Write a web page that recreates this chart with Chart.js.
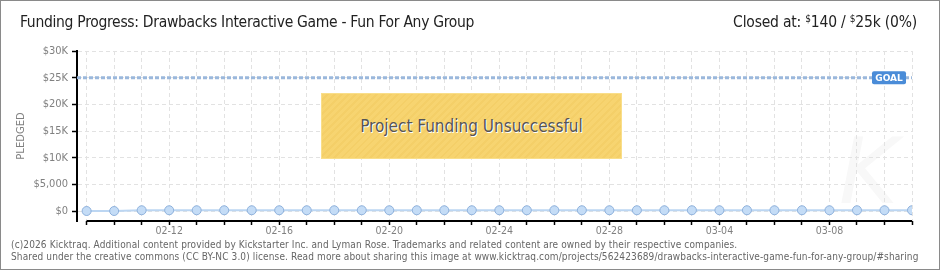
<!DOCTYPE html>
<html>
<head>
<meta charset="utf-8">
<script src="https://cdn.jsdelivr.net/npm/chart.js@4/dist/chart.umd.min.js"></script>
<style>
  html, body { margin: 0; padding: 0; background: #fff; }
  #wrap {
    position: relative; width: 940px; height: 270px; box-sizing: border-box;
    border: 1px solid #8a8a8a; overflow: hidden; background: #fff;
  }
  #chart { position: absolute; left: 0; top: 0; }
  .title {
    position: absolute; left: 19px; top: 12px; font: 15.5px "DejaVu Sans Condensed", sans-serif;
    color: #222; white-space: nowrap; letter-spacing: -0.3px;
  }
  .closed {
    position: absolute; right: 22px; top: 12px; font: 15.5px "DejaVu Sans Condensed", sans-serif;
    color: #222; white-space: nowrap; letter-spacing: -0.2px;
  }
  .closed sup { font-size: 10px; vertical-align: 5px; }
  .footer {
    position: absolute; left: 10px; top: 238px; font: 10px "DejaVu Sans Condensed", sans-serif;
    color: #666; line-height: 12px; white-space: nowrap; letter-spacing: 0.12px;
  }
  .banner {
    position: absolute; left: 320px; top: 92px; width: 301px; height: 66px; box-sizing: border-box;
    background: repeating-linear-gradient(135deg, #f7d470 0 3px, #f4cf68 3px 5px);
    border: 1px solid #f9de8a;
    display: flex; align-items: center; justify-content: center;
    font: 17px "DejaVu Sans Condensed", sans-serif; color: #555; text-shadow: 1px 1px 0 #fff;
  }
  .mark {
    position: absolute; left: 838px; top: 118px; font: italic 90px "DejaVu Sans", sans-serif;
    color: #f8f8f8; z-index: 0;
  }
</style>
</head>
<body>
<div id="wrap">
  <div class="mark">K</div>
  <canvas id="chart" width="940" height="270"></canvas>
  <div class="title">Funding Progress: Drawbacks Interactive Game - Fun For Any Group</div>
  <div class="closed">Closed at: <sup>$</sup>140 / <sup>$</sup>25k (0%)</div>
  <div class="banner">Project Funding Unsuccessful</div>
  <div class="footer">(c)2026 Kicktraq. Additional content provided by Kickstarter Inc. and Lyman Rose. Trademarks and related content are owned by their respective companies.<br>Shared under the creative commons (CC BY-NC 3.0) license. Read more about sharing this image at www.kicktraq.com/projects/562423689/drawbacks-interactive-game-fun-for-any-group/#sharing</div>
</div>
<script>
const dates = [
  "02-09", "02-10", "02-11", "02-12", "02-13", "02-14", "02-15", "02-16",
  "02-17", "02-18", "02-19", "02-20", "02-21", "02-22", "02-23", "02-24",
  "02-25", "02-26", "02-27", "02-28", "03-01", "03-02", "03-03", "03-04",
  "03-05", "03-06", "03-07", "03-08", "03-09", "03-10", "03-11",
];
const pledged = [
  0, 0, 140, 140, 140, 140, 140, 140, 140, 140, 140, 140, 140, 140, 140, 140,
  140, 140, 140, 140, 140, 140, 140, 140, 140, 140, 140, 140, 140, 140, 140,
];
const shownDates = ["02-12", "02-16", "02-20", "02-24", "02-28", "03-04", "03-08"];
const yTicks = [0, 5000, 10000, 15000, 20000, 25000, 30000];
const yTickLabels = ["$0", "$5,000", "$10K", "$15K", "$20K", "$25K", "$30K"];
const goal = 25000;

const axisFont = { family: "DejaVu Sans Condensed", size: 11 };

// goal line, GOAL tag, and x axis line between first/last day
const overlay = {
  id: "overlay",
  beforeDatasetsDraw(chart) {
    const { ctx, chartArea, scales } = chart;
    const y = scales.y.getPixelForValue(goal);
    ctx.save();
    ctx.strokeStyle = "#9bb8dc";
    ctx.lineWidth = 3;
    ctx.setLineDash([4, 2]);
    ctx.beginPath();
    ctx.moveTo(chartArea.left, y);
    ctx.lineTo(chartArea.right, y);
    ctx.stroke();
    ctx.restore();
  },
  afterDraw(chart) {
    const { ctx, chartArea, scales } = chart;
    const y = scales.y.getPixelForValue(goal);
    ctx.save();
    ctx.fillStyle = "#4a8cd8";
    ctx.beginPath();
    ctx.roundRect(chartArea.right - 40, y - 6.5, 34, 13, 2);
    ctx.fill();
    ctx.fillStyle = "#fff";
    ctx.font = "bold 9px 'DejaVu Sans'";
    ctx.textAlign = "center";
    ctx.textBaseline = "middle";
    ctx.fillText("GOAL", chartArea.right - 23, y + 0.5);

    const x0 = scales.x.getPixelForValue(0);
    const x1 = scales.x.getPixelForValue(dates.length - 1);
    ctx.strokeStyle = "#000";
    ctx.lineWidth = 2;
    ctx.beginPath();
    ctx.moveTo(x0, chartArea.bottom);
    ctx.lineTo(x1, chartArea.bottom);
    ctx.stroke();
    ctx.restore();
  },
};

new Chart(document.getElementById("chart"), {
  type: "line",
  data: {
    datasets: [
      {
        label: "Pledged",
        data: pledged.map((v, i) => ({ x: i, y: v })),
        borderColor: "#bcd6f2",
        borderWidth: 2,
        pointRadius: 4.5,
        pointBackgroundColor: "#c4dcf6",
        pointBorderColor: "#8eb1dc",
        pointBorderWidth: 1,
        tension: 0,
      },
    ],
  },
  options: {
    responsive: false,
    animation: false,
    events: [],
    layout: { padding: { left: 0, top: 50, right: 29, bottom: 30 } },
    plugins: { legend: { display: false }, tooltip: { enabled: false } },
    scales: {
      x: {
        type: "linear",
        min: -0.35,
        max: dates.length - 1,
        afterBuildTicks(scale) {
          scale.ticks = dates.map((_, i) => ({ value: i }));
        },
        afterFit(scale) { scale.height = 20; },
        border: { display: false, dash: [4, 3] },
        grid: {
          color: "#e2e2e2",
          tickColor: "#000",
          tickLength: 4,
          tickWidth: 1.5,
          tickBorderDash: [],
        },
        ticks: {
          autoSkip: false,
          maxRotation: 0,
          padding: 0,
          color: "#808080",
          font: { family: "DejaVu Sans Condensed", size: 10.5 },
          callback: (v) => (shownDates.includes(dates[v]) ? dates[v] : ""),
        },
      },
      y: {
        min: -1875,
        max: 30000,
        afterBuildTicks(scale) {
          const t = [];
          for (let v = 0; v <= 30000; v += 2500) t.push({ value: v });
          scale.ticks = t;
        },
        afterFit(scale) { scale.width = 76; },
        border: { display: true, color: "#000", width: 2, dash: [4, 3] },
        grid: {
          color: (c) => (c.tick && c.tick.value % 5000 === 0 ? "#e2e2e2" : "rgba(0,0,0,0)"),
          tickColor: (c) => (c.tick && c.tick.value % 5000 === 0 ? "#000" : "#e00"),
          tickLength: 5,
          tickWidth: 1.5,
          tickBorderDash: [],
        },
        ticks: {
          padding: 4,
          color: "#808080",
          font: axisFont,
          callback: (v) => {
            const i = yTicks.indexOf(v);
            return i >= 0 ? yTickLabels[i] : "";
          },
        },
        title: {
          display: true,
          text: "PLEDGED",
          color: "#808080",
          font: { family: "DejaVu Sans", size: 10 },
          padding: { top: 14, bottom: 0 },
        },
      },
    },
  },
  plugins: [overlay],
});
</script>
</body>
</html>
